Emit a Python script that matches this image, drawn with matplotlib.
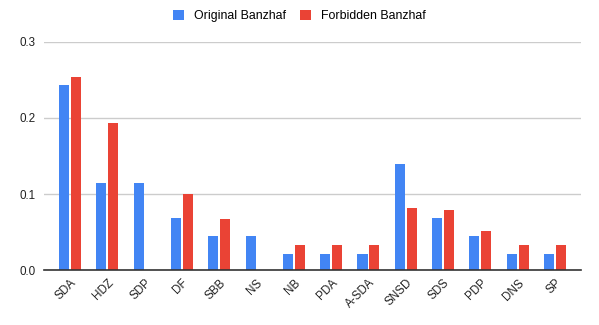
import matplotlib.pyplot as plt
import numpy as np

plt.rcParams['font.family'] = ['Liberation Sans', 'DejaVu Sans']

parties = ["SDA", "HDZ", "SDP", "DF", "SBB", "NS", "NB", "PDA", "A-SDA",
           "SNSD", "SDS", "PDP", "DNS", "SP"]
original = [0.243, 0.114, 0.114, 0.068, 0.045, 0.045, 0.021, 0.021, 0.021,
            0.140, 0.068, 0.045, 0.021, 0.021]
forbidden = [0.254, 0.193, 0.0, 0.100, 0.067, 0.0, 0.033, 0.033, 0.033,
             0.082, 0.079, 0.051, 0.033, 0.033]
yticks = [0.0, 0.1, 0.2, 0.3]

blue = "#4285F4"
red = "#EA4335"

fig = plt.figure(figsize=(5.99, 3.25), dpi=100)
ax = fig.add_axes([0.0735, 0.1692, 0.8965, 0.7016])

x = np.arange(len(parties))
w = 0.27
off = 0.16
ax.bar(x - off, original, w, color=blue, label="Original Banzhaf", zorder=3)
ax.bar(x + off, forbidden, w, color=red, label="Forbidden Banzhaf", zorder=3)

ax.set_xlim(-0.7, 13.7)
ax.set_ylim(0, 0.3)
ax.set_yticks(yticks)
ax.set_yticklabels(["%.1f" % v for v in yticks], fontsize=8.4, color="#222222")
ax.set_xticks(x)
ax.set_xticklabels(parties, rotation=45, ha="right", rotation_mode="anchor",
                   fontsize=8.4, color="#222222")
ax.tick_params(axis="both", length=0)
ax.tick_params(axis="y", pad=6)
ax.tick_params(axis="x", pad=5)

ax.grid(axis="y", color="#cccccc", linewidth=1, zorder=0)
for s in ["top", "right", "left"]:
    ax.spines[s].set_visible(False)
ax.spines["bottom"].set_color("#333333")
ax.spines["bottom"].set_linewidth(1.2)
ax.spines["bottom"].set_zorder(4)

fig.legend(loc="center", bbox_to_anchor=(0.5, 0.95), ncol=2, frameon=False,
           fontsize=8.9, handlelength=0.9, handleheight=0.9, handletextpad=0.8,
           columnspacing=1.15)

fig.savefig("out.png", dpi=100)
